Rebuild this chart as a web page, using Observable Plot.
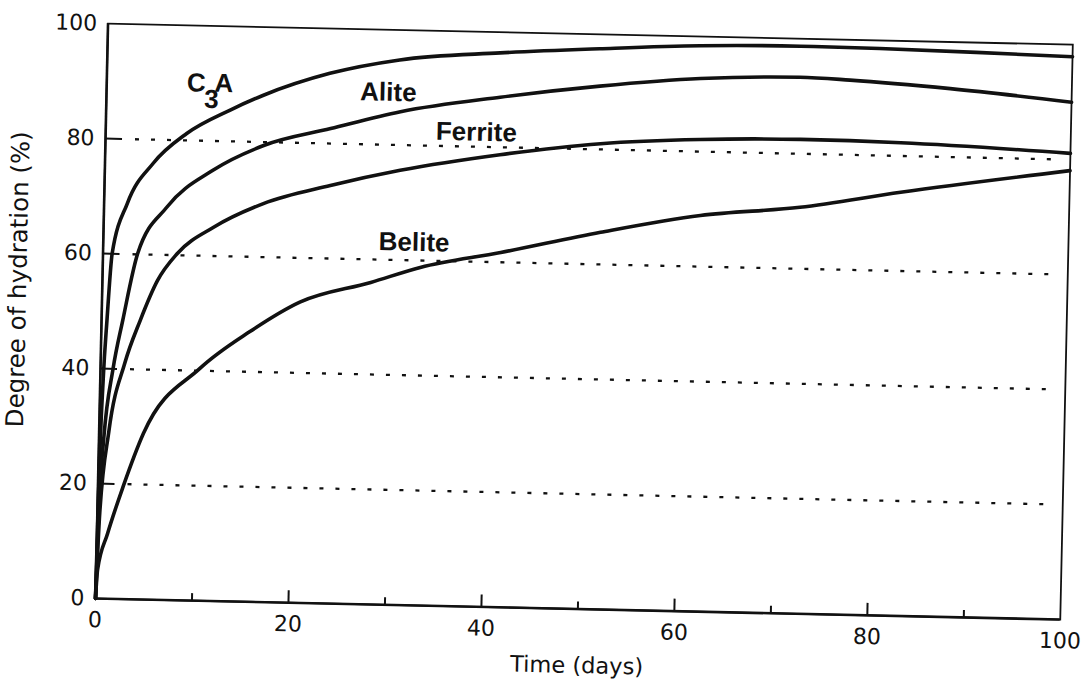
<!DOCTYPE html>
<html>
<head>
<meta charset="utf-8">
<script src="https://cdn.jsdelivr.net/npm/d3@7"></script>
<script src="https://cdn.jsdelivr.net/npm/@observablehq/plot@0.6"></script>
<style>
  html, body { margin: 0; padding: 0; background: #fff; overflow: hidden; }
  #chart svg { display: block; transform: rotate(1.25deg); transform-origin: 95px 598px; }
</style>
</head>
<body>
<div id="chart"></div>
<script>
// ---- Data ----
const c3aDays     = [0, 0.1, 0.3, 0.56, 0.95, 2.4, 5.0, 8.4, 12.8, 16.2, 23.1, 30.3, 40.7, 51.0, 61.4, 71.8, 80, 90, 100];
const c3aValues   = [0, 22, 38, 48.4, 60.1, 68.8, 75.9, 81.2, 85.4, 88.1, 92.2, 94.8, 96.4, 97.5, 98.4, 98.7, 98.6, 98.3, 97.9];

const aliteDays   = [0, 0.15, 0.5, 1.3, 2.2, 3.6, 6.5, 11.2, 16.4, 23.3, 30.5, 40.8, 51.1, 61.5, 71.8, 77.0, 87.4, 100];
const aliteValues = [0, 16, 28, 40, 48.5, 60.2, 68.3, 74.9, 79.4, 82.6, 85.8, 88.7, 91.0, 92.7, 93.3, 93.0, 91.9, 90.0];

const ferriteDays   = [0, 0.25, 1.0, 2.5, 4.0, 5.7, 7.7, 11.4, 16.5, 23.4, 30.6, 40.9, 51.3, 61.6, 72.0, 82.4, 100];
const ferriteValues = [0, 15, 29, 41, 48.5, 55.5, 60.3, 65.0, 69.3, 72.7, 75.6, 78.7, 81.0, 82.1, 82.5, 82.3, 81.1];

const beliteDays   = [0, 0.15, 1.1, 2.6, 4.6, 10.3, 15.4, 20.5, 27.8, 32.9, 41.2, 51.5, 61.8, 72.1, 82.5, 100];
const beliteValues = [0, 5, 11.3, 19.5, 28.9, 40.4, 47.0, 52.3, 56.0, 58.8, 61.7, 65.6, 68.9, 70.7, 73.7, 78.1];

const seriesNames = ["C3A", "Alite", "Ferrite", "Belite"];
const labelDays   = [10.7, 29.2, 38.4, 32.2];
const labelValues = [90.0, 89.1, 82.5, 63.1];

const xTicks      = [0, 20, 40, 60, 80, 100];
const xMinorTicks = [10, 30, 50, 70, 90];
const yTicks      = [0, 20, 40, 60, 80, 100];
const gridValues  = [20, 40, 60, 80];

const xTitle = "Time (days)";
const yTitle = "Degree of hydration (%)";

// ---- Build table ----
function rows(name, days, vals) {
  return days.map((d, i) => ({ series: name, day: d, value: vals[i] }));
}
const curveData = [
  ...rows("C3A", c3aDays, c3aValues),
  ...rows("Alite", aliteDays, aliteValues),
  ...rows("Ferrite", ferriteDays, ferriteValues),
  ...rows("Belite", beliteDays, beliteValues)
];
const labels = seriesNames.map((n, i) => ({ name: n, day: labelDays[i], value: labelValues[i] }));

const W = 1085, H = 687, ML = 95, MR = 25, MT = 23, MB = 89;
const plotW = W - ML - MR, plotH = H - MT - MB;
const ink = "#111";

const chart = Plot.plot({
  width: W, height: H,
  marginLeft: ML, marginRight: MR, marginTop: MT, marginBottom: MB,
  style: { background: "white", fontFamily: "DejaVu Sans", color: ink },
  x: { domain: [0, 100] },
  y: { domain: [0, 100] },
  marks: [
    Plot.ruleY(gridValues, { stroke: ink, strokeWidth: 2.3, strokeDasharray: "4,12", insetLeft: 30, insetRight: 12 }),
    Plot.frame({ stroke: ink, strokeWidth: 1.8 }),
    Plot.ruleY(gridValues, { stroke: ink, strokeWidth: 2, insetRight: plotW - 17 }),
    Plot.ruleX(xTicks.slice(1, -1), { stroke: ink, strokeWidth: 2, insetTop: plotH - 12 }),
    Plot.ruleX(xMinorTicks, { stroke: ink, strokeWidth: 2, insetTop: plotH - 7 }),
    Plot.ruleY([0], { stroke: ink, strokeWidth: 2.6 }),
    Plot.ruleX([0], { stroke: ink, strokeWidth: 2.6 }),
    Plot.axisX({ ticks: xTicks, tickSize: 0, tickPadding: 13, fontSize: 22, label: null, tickFormat: d => String(d) }),
    Plot.axisY({ ticks: yTicks, tickSize: 0, tickPadding: 11, fontSize: 22, label: null, tickFormat: d => String(d) }),
    Plot.line(curveData, { x: "day", y: "value", z: "series", stroke: ink, strokeWidth: 3.6, curve: "monotone-x", strokeLinejoin: "round" }),
    Plot.text(labels, { x: "day", y: "value", text: "name", fontFamily: "Liberation Sans", fontWeight: "bold", fontSize: 26, fill: ink }),
    Plot.text([xTitle], { text: d => d, frameAnchor: "bottom", textAnchor: "middle", lineAnchor: "top", dy: 48, fontSize: 22.5, fill: ink }),
    Plot.text([yTitle], { text: d => d, frameAnchor: "left", textAnchor: "middle", rotate: -90, dx: -84, dy: -30, fontSize: 24.5, fill: ink })
  ]
});

// subscript for C3A
d3.select(chart).selectAll("text").each(function () {
  if (this.textContent === "C3A") {
    const t = d3.select(this);
    t.text(null);
    t.append("tspan").text("C");
    t.append("tspan").attr("dy", "0.62em").attr("dx", "-0.04em").text("3");
    t.append("tspan").attr("dy", "-0.62em").attr("dx", "-0.18em").text("A");
  }
});

document.getElementById("chart").appendChild(chart);
</script>
</body>
</html>
